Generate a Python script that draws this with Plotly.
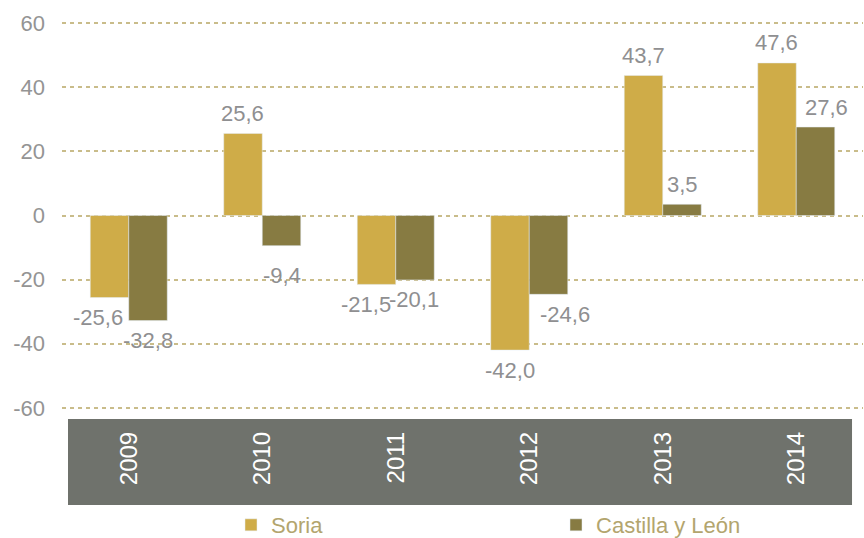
import plotly.graph_objects as go

years = ["2009", "2010", "2011", "2012", "2013", "2014"]
soria = [-25.6, 25.6, -21.5, -42.0, 43.7, 47.6]
cyl = [-32.8, -9.4, -20.1, -24.6, 3.5, 27.6]
y_ticks = [-60, -40, -20, 0, 20, 40, 60]

# label style nudges (pixels), as in the original chart
soria_dx = [-11, 0, -10, 0, 0, 0]
cyl_dx = [0, 0, -1, 16, 0, 11]
cyl_dy_extra = [0, 10, 0, 0, 0, 0]

def fmt(v):
    return f"{v:.1f}".replace(".", ",")

FONT = "Liberation Sans, Arial, sans-serif"
LABEL_GRAY = "#8f8f91"
BARGAP = 0.423
half = (1 - BARGAP) / 4

fig = go.Figure()
fig.add_trace(go.Bar(x=years, y=soria, name="Soria", marker_color="#CFAC48"))
fig.add_trace(go.Bar(x=years, y=cyl, name="Castilla y León", marker_color="#877B42"))

for series, sign, dxs, extra in ((soria, -1, soria_dx, [0] * 6), (cyl, 1, cyl_dx, cyl_dy_extra)):
    for i, v in enumerate(series):
        fig.add_annotation(
            x=i + sign * half, y=v, xref="x", yref="y",
            text=fmt(v), showarrow=False,
            xanchor="center", yanchor="middle",
            xshift=dxs[i], yshift=(20 + extra[i]) * (1 if v >= 0 else -1),
            font=dict(size=22, color=LABEL_GRAY, family=FONT),
        )

fig.add_shape(type="rect", xref="paper", yref="paper",
              x0=0.0075, x1=0.9863, y0=-0.2404, y1=-0.0205,
              fillcolor="#6F726C", line_width=0, layer="below")

fig.update_layout(
    width=864, height=538,
    margin=dict(l=62, r=1, t=20, b=127, autoexpand=False),
    paper_bgcolor="white", plot_bgcolor="white",
    barmode="group", bargap=BARGAP, bargroupgap=0,
    font=dict(family=FONT, size=22, color="#999999"),
    showlegend=True,
    legend=dict(orientation="h", x=0.211, xanchor="left", y=-0.2916, yanchor="middle",
                font=dict(size=22, color="#B3A56E", family=FONT),
                entrywidth=280, entrywidthmode="pixels",
                itemclick=False, bgcolor="rgba(0,0,0,0)"),
)
fig.update_yaxes(range=[-61, 61], tickvals=y_ticks, ticktext=[str(v) for v in y_ticks],
                 showgrid=True, gridcolor="#C9BC8A", griddash="4px,4px", gridwidth=1.5,
                 zeroline=False, showline=False, ticks="", ticklabelstandoff=16,
                 tickfont=dict(size=22, color="#949494", family=FONT))
fig.update_xaxes(type="category", tickangle=-90, showgrid=False, showline=False,
                 zeroline=False, ticks="", ticklabelstandoff=15, range=[-0.5, 5.5],
                 tickfont=dict(size=24, color="white", family=FONT))

fig.write_html("out.html", config={"displayModeBar": False},
               post_script="document.body.style.margin='0px';")
